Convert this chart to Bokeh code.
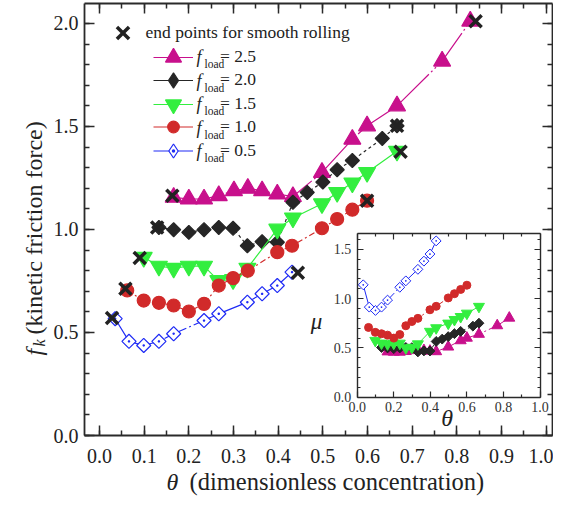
import math
from bokeh.plotting import figure
from bokeh.models import (Range1d, LinearAxis, SingleIntervalTicker, FixedTicker, Legend, LegendItem,
                          Label, PrintfTickFormatter, CustomLabelingPolicy)
from bokeh.core.properties import value
from bokeh.embed import file_html
from bokeh.resources import INLINE

SERIF = "Liberation Serif"
NAN = float("nan")

# ---------------- data ----------------
f_load_labels = ["2.5", "2.0", "1.5", "1.0", "0.5"]

theta_25 = [0.166, 0.2, 0.234, 0.267, 0.301, 0.332, 0.364, 0.398, 0.433, 0.498, 0.566, 0.599, 0.666, 0.767, 0.83]
fk_25 = [1.156, 1.148, 1.148, 1.164, 1.188, 1.2, 1.188, 1.172, 1.16, 1.277, 1.438, 1.503, 1.6, 1.817, 2.011]

theta_20 = [0.133, 0.166, 0.2, 0.234, 0.267, 0.299, 0.331, 0.364, 0.398, 0.433, 0.465, 0.5, 0.532, 0.566, 0.633, 0.666]
fk_20 = [1.01, 0.999, 0.986, 0.999, 1.01, 1.006, 0.921, 0.941, 0.938, 1.132, 1.18, 1.23, 1.29, 1.335, 1.442, 1.503]

theta_15 = [0.099, 0.133, 0.166, 0.2, 0.234, 0.266, 0.299, 0.331, 0.398, 0.433, 0.498, 0.532, 0.566, 0.599, 0.666]
fk_15 = [0.865, 0.822, 0.812, 0.822, 0.822, 0.752, 0.757, 0.812, 1.002, 1.056, 1.125, 1.18, 1.226, 1.277, 1.38]

theta_10 = [0.062, 0.099, 0.133, 0.166, 0.2, 0.234, 0.267, 0.299, 0.332, 0.398, 0.431, 0.498, 0.532, 0.566, 0.599]
fk_10 = [0.704, 0.655, 0.644, 0.631, 0.602, 0.639, 0.728, 0.764, 0.8, 0.89, 0.921, 1.006, 1.051, 1.096, 1.14]

theta_05 = [0.035, 0.066, 0.099, 0.133, 0.166, 0.234, 0.267, 0.331, 0.364, 0.398, 0.431]
fk_05 = [0.567, 0.457, 0.437, 0.457, 0.494, 0.558, 0.591, 0.647, 0.688, 0.728, 0.793]

end_theta = [0.028, 0.058, 0.09, 0.129, 0.163, 0.444, 0.599, 0.674, 0.666, 0.842]
end_fk = [0.57, 0.712, 0.862, 1.01, 1.164, 0.79, 1.14, 1.377, 1.503, 2.011]

# inset: friction coefficient mu
mu_theta_25 = [0.166, 0.2, 0.233, 0.266, 0.299, 0.332, 0.365, 0.398, 0.432, 0.498, 0.566, 0.6, 0.666, 0.766, 0.832]
mu_25 = [0.462, 0.459, 0.459, 0.466, 0.475, 0.48, 0.475, 0.469, 0.464, 0.511, 0.575, 0.601, 0.64, 0.727, 0.804]

mu_theta_20 = [0.133, 0.166, 0.2, 0.233, 0.266, 0.299, 0.332, 0.365, 0.398, 0.432, 0.465, 0.498, 0.532, 0.566, 0.633, 0.666]
mu_20 = [0.505, 0.5, 0.493, 0.5, 0.505, 0.503, 0.46, 0.47, 0.469, 0.566, 0.59, 0.615, 0.645, 0.668, 0.721, 0.751]

mu_theta_15 = [0.099, 0.133, 0.166, 0.2, 0.233, 0.266, 0.299, 0.332, 0.398, 0.432, 0.498, 0.532, 0.566, 0.6, 0.666]
mu_15 = [0.575, 0.548, 0.54, 0.547, 0.547, 0.5, 0.505, 0.54, 0.667, 0.703, 0.75, 0.787, 0.817, 0.851, 0.92]

mu_theta_10 = [0.062, 0.099, 0.133, 0.166, 0.2, 0.233, 0.266, 0.299, 0.332, 0.398, 0.432, 0.498, 0.532, 0.566, 0.6]
mu_10 = [0.708, 0.658, 0.644, 0.63, 0.6, 0.636, 0.725, 0.768, 0.8, 0.887, 0.922, 1.007, 1.05, 1.093, 1.136]

mu_theta_05 = [0.033, 0.066, 0.1, 0.133, 0.166, 0.233, 0.266, 0.332, 0.365, 0.398, 0.432]
mu_05 = [1.14, 0.914, 0.88, 0.914, 0.985, 1.115, 1.18, 1.297, 1.38, 1.452, 1.585]

inset_xticks = [0.0, 0.2, 0.4, 0.6, 0.8, 1.0]
inset_xminor = [0.1, 0.3, 0.5, 0.7, 0.9]
inset_yticks = [0.0, 0.5, 1.0, 1.5]
inset_yminor = [0.1, 0.2, 0.3, 0.4, 0.6, 0.7, 0.8, 0.9, 1.1, 1.2, 1.3, 1.4, 1.6]

# ---------------- styles ----------------
styles = {
    "2.5": dict(color="#C8108C", marker="triangle", size=17, angle=0.0, fill="#C8108C", dash="40 3 2 3 2 3",
                isize=11, lmarker="triangle", lsize=16,
                theta=theta_25, fk=fk_25, mth=mu_theta_25, mu=mu_25),
    "2.0": dict(color="#262626", marker="square", size=10, angle=math.pi / 4, fill="#262626", dash="3 3",
                isize=7, lmarker="diamond", lsize=15,
                theta=theta_20, fk=fk_20, mth=mu_theta_20, mu=mu_20),
    "1.5": dict(color="#33EE3F", marker="inverted_triangle", size=17, angle=0.0, fill="#33EE3F", dash="solid",
                isize=11, lmarker="inverted_triangle", lsize=16,
                theta=theta_15, fk=fk_15, mth=mu_theta_15, mu=mu_15),
    "1.0": dict(color="#D12A2A", marker="circle", size=13, angle=0.0, fill="#D12A2A", dash="6 3 2 3",
                isize=8, lmarker="circle", lsize=11.5,
                theta=theta_10, fk=fk_10, mth=mu_theta_10, mu=mu_10),
    "0.5": dict(color="#1F2BF5", marker="square_dot", size=10, angle=math.pi / 4, fill="white", dash="24 3 2 3",
                isize=7, lmarker="diamond_dot", lsize=14,
                theta=theta_05, fk=fk_05, mth=mu_theta_05, mu=mu_05),
}

# ---------------- geometry (figure pixels) ----------------
FIG_W, FIG_H = 553, 496
BOX_L, BOX_R, BOX_T, BOX_B = 84, 552, 3, 435
X0, X1 = -0.0336, 1.0141
Y1 = 2.097
SX = (BOX_R - BOX_L) / (X1 - X0)
SY = (BOX_B - BOX_T) / Y1

IBOX_L, IBOX_R, IBOX_T, IBOX_B = 356.7, 539.5, 233.2, 396.8
MU_TOP = 1.658
ISX = (IBOX_R - IBOX_L) / 1.0
ISY = (IBOX_B - IBOX_T) / MU_TOP


def dx(px):
    return X0 + (px - BOX_L) / SX


def dy(py):
    return (BOX_B - py) / SY


def ix(px):
    return (px - IBOX_L) / ISX


def iy(py):
    return (IBOX_B - py) / ISY


p = figure(width=FIG_W, height=FIG_H,
           x_range=Range1d(dx(0), dx(FIG_W)), y_range=Range1d(dy(FIG_H), dy(0)),
           output_backend="svg", toolbar_location=None,
           min_border_left=0, min_border_right=0, min_border_top=0, min_border_bottom=0)
p.extra_x_ranges = {"ix": Range1d(ix(0), ix(FIG_W))}
p.extra_y_ranges = {"iy": Range1d(iy(FIG_H), iy(0))}
p.grid.visible = False
p.outline_line_color = None
p.background_fill_color = "white"
p.border_fill_color = "white"

hide_labels = CustomLabelingPolicy(code="for (const i of Array.from(indices)) indices.unset(i); return indices")

xt = SingleIntervalTicker(interval=0.1, num_minor_ticks=2)
yt = SingleIntervalTicker(interval=0.5, num_minor_ticks=5)
fmt = PrintfTickFormatter(format="%.1f")

bottom = p.xaxis[0]
left = p.yaxis[0]
bottom.update(ticker=xt, formatter=fmt, fixed_location=0, bounds=(X0, X1), major_label_standoff=13)
left.update(ticker=yt, formatter=fmt, fixed_location=X0, bounds=(0, Y1), major_label_standoff=6)
top = LinearAxis(ticker=xt, fixed_location=Y1, bounds=(X0, X1), major_label_policy=hide_labels)
right = LinearAxis(ticker=yt, fixed_location=X1, bounds=(0, Y1), major_label_policy=hide_labels)
p.add_layout(top, "above")
p.add_layout(right, "right")

for ax in (bottom, left, top, right):
    ax.update(axis_line_width=1.8, axis_line_color="#2a2a2a",
              major_tick_in=10, major_tick_out=0, minor_tick_in=5, minor_tick_out=0,
              major_tick_line_width=1.5, minor_tick_line_width=1.5,
              major_tick_line_color="#2a2a2a", minor_tick_line_color="#2a2a2a",
              major_label_text_font=SERIF, major_label_text_font_size="20px",
              major_label_text_color="#222222", axis_label=None)

# ---------------- main series ----------------
for lab in f_load_labels:
    s = styles[lab]
    p.line(s["theta"], s["fk"], line_color=s["color"], line_width=1.2, line_dash=s["dash"])
    p.scatter(s["theta"], s["fk"], marker=s["marker"], size=s["size"], angle=s["angle"],
              fill_color=s["fill"], line_color=s["color"], line_width=1.2)

rx = p.scatter(end_theta, end_fk, marker="x", size=17, line_color="#222222", line_width=3.5)

# ---------------- inset ----------------
p.quad(left=0, right=1, bottom=0, top=MU_TOP, x_range_name="ix", y_range_name="iy",
       fill_color="white", line_color=None)

for lab in f_load_labels:
    s = styles[lab]
    p.line(s["mth"], s["mu"], x_range_name="ix", y_range_name="iy",
           line_color=s["color"], line_width=1.0, line_dash=s["dash"])
    p.scatter(s["mth"], s["mu"], x_range_name="ix", y_range_name="iy", marker=s["marker"], size=s["isize"],
              angle=s["angle"], fill_color=s["fill"], line_color=s["color"], line_width=1.0)

ixt = FixedTicker(ticks=inset_xticks, minor_ticks=inset_xminor)
iyt = FixedTicker(ticks=inset_yticks, minor_ticks=inset_yminor)
i_bottom = LinearAxis(x_range_name="ix", y_range_name="iy", ticker=ixt, formatter=fmt,
                      fixed_location=0, bounds=(0, 1), major_label_standoff=5)
i_left = LinearAxis(x_range_name="ix", y_range_name="iy", ticker=iyt, formatter=fmt,
                    fixed_location=0, bounds=(0, MU_TOP), major_label_standoff=6)
i_top = LinearAxis(x_range_name="ix", y_range_name="iy", ticker=ixt, fixed_location=MU_TOP,
                   bounds=(0, 1), major_label_policy=hide_labels)
i_right = LinearAxis(x_range_name="ix", y_range_name="iy", ticker=iyt, fixed_location=1,
                     bounds=(0, MU_TOP), major_label_policy=hide_labels)
p.add_layout(i_bottom, "below")
p.add_layout(i_left, "left")
p.add_layout(i_top, "above")
p.add_layout(i_right, "right")
for ax in (i_bottom, i_left, i_top, i_right):
    ax.update(axis_line_width=1.4, axis_line_color="#2a2a2a",
              major_tick_in=6, major_tick_out=0, minor_tick_in=3, minor_tick_out=0,
              major_tick_line_width=1.2, minor_tick_line_width=1.2,
              major_tick_line_color="#2a2a2a", minor_tick_line_color="#2a2a2a",
              major_label_text_font=SERIF, major_label_text_font_size="14px",
              major_label_text_color="#333333", axis_label=None)

p.text(x=[ix(316)], y=[iy(321)], text=["μ"], x_range_name="ix", y_range_name="iy",
       text_font=value(SERIF), text_font_style="italic", text_font_size="23px", text_color="#222222",
       text_align="center", text_baseline="middle")
p.text(x=[ix(446.7)], y=[iy(417)], text=["θ"], x_range_name="ix", y_range_name="iy",
       text_font=value(SERIF), text_font_style="italic", text_font_size="24px", text_color="#222222",
       text_align="center", text_baseline="middle")

# ---------------- legends ----------------
# Bokeh draws a legend marker at 0.4 x the smaller side of its glyph box, so each entry gets
# its own legend whose box height sets the marker size; key glyphs are non-drawing proxies.
LA_CX, LA_CY = 122, 32          # X glyph centre
LB_CX, LB_CY, LB_PITCH, LB_GW = 173, 56.5, 23.5, 40


def one_legend(label, renderers, cx, cy, gw, gh, standoff):
    leg = Legend(items=[LegendItem(label=label, renderers=renderers)],
                 location=(cx - gw / 2, FIG_H - (cy + gh / 2)), glyph_width=int(round(gw)),
                 glyph_height=int(round(gh)), label_height=20, label_standoff=standoff,
                 padding=0, margin=0, spacing=0, border_line_alpha=0, background_fill_alpha=0,
                 label_text_font=SERIF, label_text_font_size="17.5px", label_text_color="#222222")
    p.add_layout(leg)


one_legend("end points for smooth rolling", [rx], LA_CX, LA_CY, 43, 43, 2)

for i, lab in enumerate(f_load_labels):
    s = styles[lab]
    ry = LB_CY + i * LB_PITCH
    key_line = p.line([NAN, NAN], [NAN, NAN], line_color=s["color"], line_width=1.2)
    key_mark = p.scatter([NAN], [NAN], marker=s["lmarker"], size=s["lsize"],
                         fill_color=s["fill"], line_color=s["color"], line_width=1.2)
    gh = s["lsize"] / 0.4
    one_legend("= " + lab, [key_line, key_mark], LB_CX, ry, LB_GW, gh, 27)
    p.add_layout(Label(x=dx(196), y=dy(ry), text="f", text_font=SERIF, text_font_style="italic",
                       text_font_size="18px", text_color="#222222", text_align="left", text_baseline="middle"))
    p.add_layout(Label(x=dx(204), y=dy(ry + 7), text="load", text_font=SERIF,
                       text_font_size="11.5px", text_color="#222222", text_align="left", text_baseline="middle"))

# ---------------- axis titles ----------------
p.add_layout(Label(x=dx(166), y=dy(481), text="θ", text_font=SERIF, text_font_style="italic",
                   text_font_size="24px", text_color="#222222", text_align="left", text_baseline="middle"))
p.add_layout(Label(x=dx(189), y=dy(481), text="(dimensionless concentration)", text_font=SERIF,
                   text_font_size="24.5px", text_color="#222222", text_align="left", text_baseline="middle"))

p.add_layout(Label(x=dx(33), y=dy(355), text="f", text_font=SERIF, text_font_style="italic",
                   text_font_size="24px", text_color="#222222", text_align="left", text_baseline="middle",
                   angle=math.pi / 2))
p.add_layout(Label(x=dx(39), y=dy(346), text="k", text_font=SERIF, text_font_style="italic",
                   text_font_size="16px", text_color="#222222", text_align="left", text_baseline="middle",
                   angle=math.pi / 2))
p.add_layout(Label(x=dx(33), y=dy(334), text="(kinetic friction force)", text_font=SERIF,
                   text_font_size="24px", text_color="#222222", text_align="left", text_baseline="middle",
                   angle=math.pi / 2))

open("out.html", "w").write(file_html(p, INLINE))
